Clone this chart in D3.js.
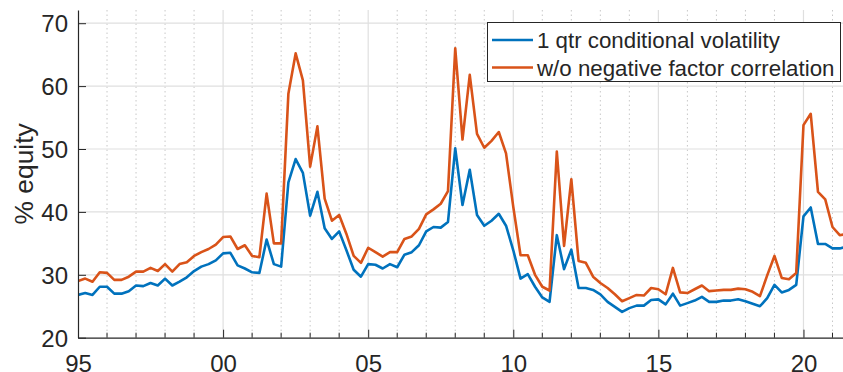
<!DOCTYPE html>
<html>
<head>
<meta charset="utf-8">
<script src="https://cdn.jsdelivr.net/npm/d3@7"></script>
<style>
  body { margin: 0; background: #fff; }
  text { font-family: "Liberation Sans", Arial, Helvetica, sans-serif; fill: #262626; }
</style>
</head>
<body>
<div id="plot"></div>
<script>
// quarterly observations, first one is 1995Q1
let startYear = 1995;

let volatility = [
    26.8, 27.1, 26.8, 28.1, 28.1, 27.0, 27.0, 27.4, 28.3, 28.2,
    28.7, 28.3, 29.4, 28.3, 28.9, 29.6, 30.6, 31.3, 31.7, 32.3,
    33.4, 33.5, 31.5, 31.0, 30.4, 30.3, 35.6, 31.7, 31.3, 44.7,
    48.4, 46.2, 39.4, 43.2, 37.4, 35.7, 36.9, 33.9, 30.8, 29.7,
    31.7, 31.6, 31.0, 31.7, 31.2, 33.2, 33.6, 34.7, 36.9, 37.6,
    37.5, 38.4, 50.1, 41.1, 46.7, 39.5, 37.8, 38.6, 39.7, 37.8,
    33.9, 29.4, 30.1, 28.1, 26.4, 25.7, 36.3, 30.9, 34.0, 27.9,
    27.9, 27.6, 26.9, 25.7, 24.9, 24.1, 24.7, 25.1, 25.1, 26.0,
    26.1, 25.3, 27.0, 25.1, 25.5, 25.9, 26.5, 25.7, 25.7, 25.9,
    25.9, 26.1, 25.8, 25.4, 25.0, 26.3, 28.4, 27.2, 27.6, 28.4,
    39.3, 40.7, 34.9, 34.9, 34.2, 34.2, 34.5
];

let noNegCorr = [
    29.0, 29.4, 28.9, 30.4, 30.3, 29.2, 29.2, 29.7, 30.5, 30.5,
    31.1, 30.6, 31.7, 30.5, 31.7, 32.0, 33.0, 33.6, 34.1, 34.8,
    36.0, 36.1, 34.1, 34.7, 33.0, 32.8, 42.9, 35.0, 35.0, 58.8,
    65.2, 60.9, 47.2, 53.6, 42.1, 38.6, 39.5, 36.5, 33.0, 31.9,
    34.3, 33.6, 32.9, 33.6, 33.6, 35.7, 36.1, 37.3, 39.6, 40.4,
    41.3, 43.3, 66.0, 51.5, 61.8, 52.4, 50.2, 51.3, 52.7, 49.3,
    40.8, 33.1, 33.1, 30.0, 28.1, 27.5, 49.6, 34.6, 45.2, 32.2,
    31.9, 29.7, 28.7, 27.9, 26.9, 25.8, 26.3, 26.8, 26.7, 27.9,
    27.7, 26.9, 31.1, 27.2, 27.1, 27.7, 28.3, 27.4, 27.5, 27.6,
    27.6, 27.8, 27.7, 27.3, 26.6, 29.9, 33.0, 29.5, 29.3, 30.3,
    53.8, 55.6, 43.2, 42.0, 37.6, 36.3, 36.5
];

let seriesNames = ['1 qtr conditional volatility', 'w/o negative factor correlation'];
let seriesColors = ['#0072BD', '#D95319'];

let xMajorTicks = [1995, 2000, 2005, 2010, 2015, 2020];
let xTickLabels = ['95', '00', '05', '10', '15', '20'];
let yTicks = [20, 30, 40, 50, 60, 70];

let svgWidth = 843;
let svgHeight = 372;

let margin = { top: 10, right: -4, bottom: 34.3, left: 78 };
let chartWidth = svgWidth - margin.left - margin.right;
let chartHeight = svgHeight - margin.top - margin.bottom;

let $svg = d3.select('#plot')
    .append('svg')
    .attr('width', svgWidth)
    .attr('height', svgHeight);

let $chartGroup = $svg.append('g')
    .attr('transform', `translate(${margin.left}, ${margin.top})`);

let xScale = d3.scaleLinear()
    .domain([1995, 2021.5])
    .range([0, chartWidth]);

let yScale = d3.scaleLinear()
    .domain([20, 72.1])
    .range([chartHeight, 0]);

let axisColor = '#262626';

// minor (yearly) dotted grid on x
let minorYears = d3.range(1996, 2022).filter(y => y % 5 !== 0);
$chartGroup.selectAll('.minor-grid')
    .data(minorYears)
    .enter()
    .append('line')
    .attr('x1', d => xScale(d))
    .attr('x2', d => xScale(d))
    .attr('y1', 0)
    .attr('y2', chartHeight)
    .attr('stroke', '#c8c8c8')
    .attr('stroke-width', 1)
    .attr('stroke-dasharray', '1.5,3');

// major grid
$chartGroup.selectAll('.xgrid')
    .data(xMajorTicks.slice(1))
    .enter()
    .append('line')
    .attr('x1', d => xScale(d))
    .attr('x2', d => xScale(d))
    .attr('y1', 0)
    .attr('y2', chartHeight)
    .attr('stroke', '#dfdfdf')
    .attr('stroke-width', 1.2);

$chartGroup.selectAll('.ygrid')
    .data(yTicks.slice(1))
    .enter()
    .append('line')
    .attr('x1', 0)
    .attr('x2', chartWidth)
    .attr('y1', d => yScale(d))
    .attr('y2', d => yScale(d))
    .attr('stroke', '#dfdfdf')
    .attr('stroke-width', 1.2);

// clip for the lines
$svg.append('defs').append('clipPath')
    .attr('id', 'clip')
    .append('rect')
    .attr('width', chartWidth)
    .attr('height', chartHeight);

let line = d3.line()
    .x((d, i) => xScale(startYear + i / 4))
    .y(d => yScale(d));

let $lines = $chartGroup.append('g').attr('clip-path', 'url(#clip)');

[volatility, noNegCorr].forEach((series, i) => {
    $lines.append('path')
        .datum(series)
        .attr('d', line)
        .attr('fill', 'none')
        .attr('stroke', seriesColors[i])
        .attr('stroke-width', 2.6)
        .attr('stroke-linejoin', 'round');
});

// axes
let bottomAxis = d3.axisBottom(xScale)
    .tickValues(xMajorTicks)
    .tickFormat((d, i) => xTickLabels[i])
    .tickSizeInner(-8)
    .tickSizeOuter(0)
    .tickPadding(22);

let $xAxis = $chartGroup.append('g')
    .attr('transform', `translate(0, ${chartHeight})`)
    .call(bottomAxis);

// minor ticks on x axis
$xAxis.selectAll('.minor-tick')
    .data(minorYears)
    .enter()
    .append('line')
    .attr('x1', d => xScale(d))
    .attr('x2', d => xScale(d))
    .attr('y1', 0)
    .attr('y2', -5)
    .attr('stroke', axisColor);

let leftAxis = d3.axisLeft(yScale)
    .tickValues(yTicks)
    .tickSizeInner(-8)
    .tickSizeOuter(0)
    .tickPadding(10);

let $yAxis = $chartGroup.append('g')
    .call(leftAxis);

[$xAxis, $yAxis].forEach($a => {
    $a.select('.domain').attr('stroke', axisColor).attr('stroke-width', 1.2);
    $a.selectAll('.tick line').attr('stroke', axisColor);
    $a.selectAll('text')
        .attr('fill', axisColor)
        .style('font-size', '24px')
        .style('font-family', '"Liberation Sans", Arial, sans-serif');
});

$xAxis.selectAll('.tick text').attr('dy', null).attr('y', 34.3);
$yAxis.selectAll('.tick text').attr('dy', '0.36em');

// y label
$svg.append('text')
    .attr('transform', `translate(33, ${margin.top + chartHeight / 2}) rotate(-90)`)
    .attr('text-anchor', 'middle')
    .style('font-size', '26.4px')
    .text('% equity');

// legend
let $legend = $svg.append('g');

$legend.append('rect')
    .attr('x', 487.5)
    .attr('y', 22.5)
    .attr('width', 353)
    .attr('height', 59)
    .attr('fill', '#fff')
    .attr('stroke', axisColor)
    .attr('stroke-width', 1);

seriesNames.forEach((name, i) => {
    let yPos = 40 + i * 27.5;
    $legend.append('line')
        .attr('x1', 492)
        .attr('x2', 533)
        .attr('y1', yPos)
        .attr('y2', yPos)
        .attr('stroke', seriesColors[i])
        .attr('stroke-width', 2.6);
    $legend.append('text')
        .attr('x', 537)
        .attr('y', yPos)
        .attr('dy', '0.36em')
        .style('font-size', '22.3px')
        .text(name);
});
</script>
</body>
</html>
